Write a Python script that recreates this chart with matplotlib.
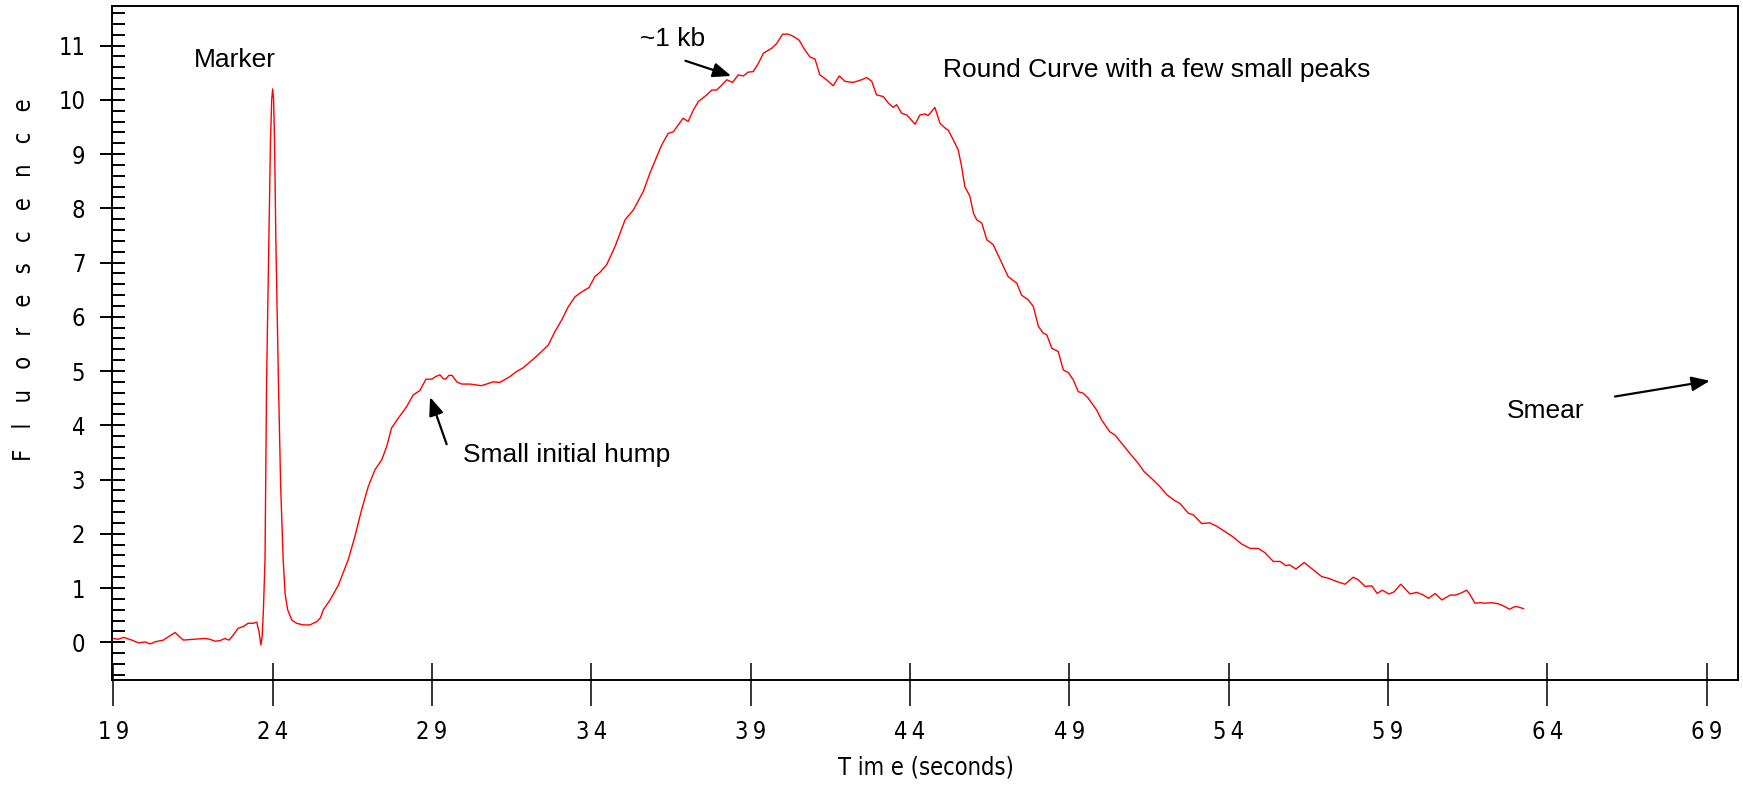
import matplotlib
matplotlib.use("Agg")
import matplotlib.pyplot as plt
from matplotlib import font_manager
from matplotlib.ticker import MultipleLocator

# trace (seconds, fluorescence units)
time_s = [
    19.00, 19.16, 19.32, 19.58, 19.79, 20.00, 20.16, 20.32, 20.57, 20.78,
    20.94, 21.10, 21.20, 21.51, 21.88, 22.03, 22.19, 22.35, 22.50, 22.63,
    22.76, 22.92, 23.08, 23.23, 23.39, 23.50, 23.57, 23.63, 23.67, 23.71,
    23.76, 23.81, 23.88, 23.93, 23.97, 24.00, 24.03, 24.06, 24.10, 24.18,
    24.25, 24.33, 24.39, 24.47, 24.60, 24.75, 24.96, 25.17, 25.38, 25.50,
    25.59, 25.80, 26.06, 26.37, 26.58, 26.79, 27.00, 27.21, 27.42, 27.58,
    27.73, 27.94, 28.20, 28.41, 28.62, 28.81, 28.99, 29.12, 29.25, 29.35,
    29.43, 29.53, 29.63, 29.78, 29.93, 30.19, 30.55, 30.92, 31.13, 31.45,
    31.65, 31.86, 32.18, 32.44, 32.65, 32.86, 33.07, 33.28, 33.49, 33.70,
    33.93, 34.11, 34.27, 34.48, 34.74, 35.06, 35.32, 35.63, 35.84, 36.05,
    36.21, 36.41, 36.57, 36.73, 36.88, 37.04, 37.20, 37.36, 37.62, 37.78,
    37.93, 38.09, 38.25, 38.43, 38.61, 38.77, 38.92, 39.08, 39.24, 39.40,
    39.66, 39.82, 40.00, 40.18, 40.34, 40.52, 40.70, 40.86, 41.02, 41.17,
    41.38, 41.59, 41.78, 41.96, 42.22, 42.48, 42.64, 42.80, 42.95, 43.16,
    43.32, 43.47, 43.58, 43.74, 43.90, 44.16, 44.31, 44.47, 44.57, 44.78,
    44.94, 45.10, 45.20, 45.36, 45.51, 45.62, 45.72, 45.88, 45.99, 46.09,
    46.25, 46.41, 46.61, 46.88, 47.08, 47.35, 47.50, 47.71, 47.87, 48.03,
    48.18, 48.29, 48.45, 48.65, 48.81, 48.97, 49.12, 49.28, 49.44, 49.59,
    49.86, 50.01, 50.27, 50.43, 50.64, 50.90, 51.16, 51.34, 51.58, 51.84,
    52.06, 52.31, 52.47, 52.73, 52.89, 53.15, 53.41, 53.62, 53.94, 54.14,
    54.41, 54.67, 54.93, 55.14, 55.40, 55.61, 55.80, 55.90, 56.11, 56.37,
    56.60, 56.92, 57.13, 57.39, 57.65, 57.91, 58.07, 58.28, 58.49, 58.66,
    58.82, 59.03, 59.19, 59.40, 59.69, 59.90, 60.11, 60.27, 60.48, 60.69,
    60.95, 61.11, 61.26, 61.47, 61.58, 61.73, 61.89, 62.05, 62.25, 62.46,
    62.62, 62.81, 62.99, 63.09, 63.25,
]
fluorescence = [
    0.07, 0.055, 0.09, 0.04, -0.01, 0.005, -0.03, 0.01, 0.04, 0.12,
    0.18, 0.09, 0.04, 0.055, 0.07, 0.055, 0.02, 0.03, 0.07, 0.04,
    0.13, 0.26, 0.29, 0.35, 0.35, 0.37, 0.20, -0.05, 0.10, 0.60,
    1.52, 4.84, 7.42, 9.20, 10.00, 10.20, 10.00, 9.20, 7.42, 4.84,
    2.90, 1.52, 0.90, 0.60, 0.41, 0.35, 0.32, 0.32, 0.38, 0.45,
    0.60, 0.78, 1.05, 1.52, 1.95, 2.44, 2.87, 3.18, 3.36, 3.61,
    3.95, 4.13, 4.34, 4.56, 4.64, 4.85, 4.85, 4.90, 4.93, 4.86,
    4.85, 4.92, 4.92, 4.80, 4.76, 4.76, 4.73, 4.80, 4.79, 4.90,
    4.99, 5.06, 5.22, 5.36, 5.48, 5.73, 5.94, 6.19, 6.37, 6.46,
    6.54, 6.74, 6.82, 6.96, 7.29, 7.79, 7.97, 8.31, 8.65, 8.95,
    9.17, 9.38, 9.41, 9.54, 9.66, 9.60, 9.81, 9.97, 10.09, 10.18,
    10.18, 10.27, 10.37, 10.32, 10.46, 10.44, 10.51, 10.52, 10.67, 10.86,
    10.95, 11.04, 11.21, 11.21, 11.17, 11.10, 10.92, 10.79, 10.75, 10.46,
    10.37, 10.26, 10.44, 10.34, 10.32, 10.37, 10.41, 10.34, 10.09, 10.06,
    9.94, 9.86, 9.91, 9.75, 9.72, 9.55, 9.72, 9.74, 9.71, 9.86,
    9.57, 9.48, 9.44, 9.26, 9.08, 8.77, 8.40, 8.22, 7.91, 7.79,
    7.73, 7.42, 7.33, 6.99, 6.74, 6.62, 6.40, 6.31, 6.19, 5.82,
    5.70, 5.67, 5.42, 5.36, 5.02, 4.97, 4.84, 4.62, 4.59, 4.50,
    4.28, 4.10, 3.88, 3.82, 3.67, 3.48, 3.30, 3.15, 3.02, 2.87,
    2.72, 2.61, 2.56, 2.38, 2.35, 2.19, 2.20, 2.14, 2.02, 1.94,
    1.81, 1.73, 1.73, 1.65, 1.49, 1.49, 1.41, 1.43, 1.35, 1.47,
    1.36, 1.21, 1.18, 1.12, 1.07, 1.20, 1.15, 1.03, 1.04, 0.90,
    0.96, 0.89, 0.93, 1.07, 0.89, 0.92, 0.87, 0.81, 0.90, 0.78,
    0.87, 0.87, 0.90, 0.96, 0.87, 0.72, 0.73, 0.72, 0.73, 0.71,
    0.67, 0.61, 0.66, 0.65, 0.62,
]
x_ticks = [19, 24, 29, 34, 39, 44, 49, 54, 59, 64, 69]
y_ticks = [0, 1, 2, 3, 4, 5, 6, 7, 8, 9, 10, 11]


def narrow_font():
    """Pick a condensed family for the axis text, if one is installed."""
    names = {f.name for f in font_manager.fontManager.ttflist}
    for name in ("Liberation Sans Narrow", "Arial Narrow"):
        if name in names:
            return dict(family=name, size=20, gap=" ")
    if "DejaVu Sans Condensed" in names:
        return dict(family="DejaVu Sans Condensed", size=17, gap="\u2009")
    return dict(family="DejaVu Sans", stretch="condensed", size=17, gap="\u2009")


axis_font = narrow_font()
note_font = dict(family=["Liberation Sans", "DejaVu Sans"], size=19)
extra = {"fontstretch": axis_font["stretch"]} if "stretch" in axis_font else {}

fig = plt.figure(figsize=(17.43, 7.86), dpi=100)
ax = fig.add_axes([0.0641, 0.1349, 0.9330, 0.8575])

ax.plot(time_s, fluorescence, color="#ff0000", lw=1.0)

ax.set_xlim(18.95, 69.98)
ax.set_ylim(-0.695, 11.73)

for side in ax.spines.values():
    side.set_linewidth(1.4)

# x: long tick out, shorter tick in (same spots)
ax.set_xticks(x_ticks, labels=[axis_font["gap"].join(str(t)) for t in x_ticks])
ax.set_xticks(x_ticks, minor=True)
ax.xaxis.remove_overlapping_locs = False
ax.tick_params(axis="x", which="major", direction="out", length=18.7, width=1.1, pad=10)
ax.tick_params(axis="x", which="minor", direction="in", length=12.2, width=1.1)

ax.set_yticks(y_ticks, labels=[str(v) for v in y_ticks])
ax.yaxis.set_minor_locator(MultipleLocator(0.2))
ax.tick_params(axis="y", which="major", direction="inout", length=18, width=1.4, pad=10)
ax.tick_params(axis="y", which="minor", direction="in", length=9.1, width=1.4)

for lab in ax.get_xticklabels() + ax.get_yticklabels():
    lab.set_fontfamily(axis_font["family"])
    lab.set_fontsize(axis_font["size"])
    if extra:
        lab.set_fontstretch(extra["fontstretch"])

fig.text(926 / 1743, 1 - 767 / 786, "T im e (seconds)", ha="center", va="center",
         family=axis_font["family"], size=axis_font["size"], **extra)
fig.text(24.5 / 1743, 1 - 280 / 786, "   ".join("Fluorescence"), rotation=90,
         ha="center", va="center", family=axis_font["family"], size=axis_font["size"], **extra)

arrow = dict(arrowstyle="-|>,head_length=0.5,head_width=0.2", mutation_scale=22,
             color="black", lw=1.6, shrinkA=0, shrinkB=0)

ax.text(21.53, 10.61, "Marker", **note_font)
ax.annotate("", xy=(38.39, 10.44), xytext=(36.95, 10.72), arrowprops=arrow)
ax.text(35.53, 11.0, "~1 kb", **note_font)
ax.text(45.03, 10.42, "Round Curve with a few small peaks", **note_font)
ax.annotate("", xy=(28.94, 4.52), xytext=(29.46, 3.65), arrowprops=arrow)
ax.text(29.97, 3.33, "Small initial hump", **note_font)
ax.annotate("", xy=(69.1, 4.82), xytext=(66.12, 4.53), arrowprops=arrow)
ax.text(62.72, 4.13, "Smear", **note_font)

fig.savefig("out.png", dpi=100)
plt.close(fig)
